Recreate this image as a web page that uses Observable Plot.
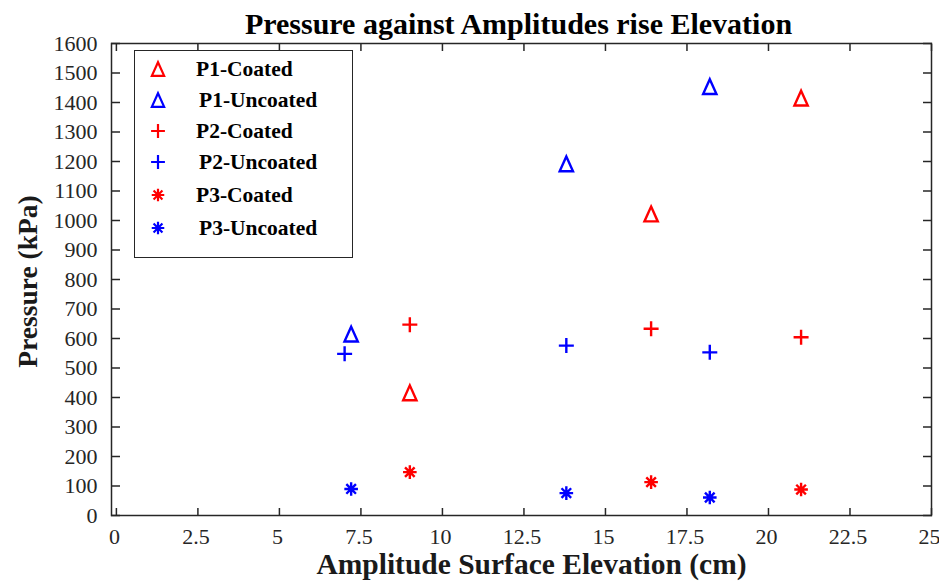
<!DOCTYPE html>
<html>
<head>
<meta charset="utf-8">
<script src="https://cdn.jsdelivr.net/npm/d3@7"></script>
<script src="https://cdn.jsdelivr.net/npm/@observablehq/plot@0.6"></script>
<style>
  html, body { margin: 0; padding: 0; background: #fff; }
  #wrap { position: relative; width: 939px; height: 581px; font-family: 'Liberation Serif', 'DejaVu Serif', 'Times New Roman', Times, serif; }
  #wrap svg text { font-family: 'Liberation Serif', 'DejaVu Serif', 'Times New Roman', Times, serif; }
  #legend { position: absolute; left: 134px; top: 50px; width: 219px; height: 208px; border: 1.5px solid #262626; background: #fff; box-sizing: border-box; }
  .row { position: absolute; left: 0; height: 24px; }
  .row svg { position: absolute; left: 11px; top: 0; }
  .row span { position: absolute; top: 0px; white-space: nowrap; font-weight: bold; font-size: 21.5px; line-height: 24px; color: #000; }
</style>
</head>
<body>
<div id="wrap"><div id="legend"></div></div>
<script>
// ---- data ----
const seriesNames = ["P1-Coated", "P1-Uncoated", "P2-Coated", "P2-Uncoated", "P3-Coated", "P3-Uncoated"];
const seriesColors = ["#ff0000", "#0000ff", "#ff0000", "#0000ff", "#ff0000", "#0000ff"];
const seriesShapes = ["triangle", "triangle", "plus", "plus", "asterisk", "asterisk"];
const xCoated = [9.0, 16.4, 21.0];
const xP1Uncoated = [7.2, 13.8, 18.2];
const xP2Uncoated = [7.0, 13.8, 18.2];
const xP3Uncoated = [7.2, 13.8, 18.2];
const p1Coated = [416, 1022, 1415];
const p1Uncoated = [615, 1192, 1454];
const p2Coated = [647, 633, 604];
const p2Uncoated = [548, 576, 553];
const p3Coated = [147, 113, 88];
const p3Uncoated = [90, 76, 61];
const xTicks = [0, 2.5, 5, 7.5, 10, 12.5, 15, 17.5, 20, 22.5, 25];
const yTicks = [0, 100, 200, 300, 400, 500, 600, 700, 800, 900, 1000, 1100, 1200, 1300, 1400, 1500, 1600];
const titleText = "Pressure against Amplitudes rise Elevation";
const xLabel = "Amplitude Surface Elevation (cm)";
const yLabel = "Pressure (kPa)";

const seriesX = [xCoated, xP1Uncoated, xCoated, xP2Uncoated, xCoated, xP3Uncoated];
const seriesY = [p1Coated, p1Uncoated, p2Coated, p2Uncoated, p3Coated, p3Uncoated];

const rows = [];
seriesNames.forEach((name, i) => {
  seriesY[i].forEach((v, j) => rows.push({series: name, shape: seriesShapes[i], color: seriesColors[i], x: seriesX[i][j], y: v}));
});

// ---- custom MATLAB-like symbols ----
const rad = s => Math.sqrt(s / Math.PI);
const symTriangle = {draw(c, s) { const r = rad(s); c.moveTo(0, -r); c.lineTo(0.9 * r, r); c.lineTo(-0.9 * r, r); c.closePath(); }};
const symPlus = {draw(c, s) { const r = rad(s); c.moveTo(-r, 0); c.lineTo(r, 0); c.moveTo(0, -r); c.lineTo(0, r); }};
const symAsterisk = {draw(c, s) { const r = rad(s); const d = r * 0.7071;
  c.moveTo(-r, 0); c.lineTo(r, 0); c.moveTo(0, -r); c.lineTo(0, r);
  c.moveTo(-d, -d); c.lineTo(d, d); c.moveTo(-d, d); c.lineTo(d, -d); }};
const symbols = {triangle: symTriangle, plus: symPlus, asterisk: symAsterisk};
const symR = {triangle: 7.4, plus: 7.5, asterisk: 6.8};

const font = "'Liberation Serif', 'DejaVu Serif', 'Times New Roman', Times, serif";
const axisColor = "#262626";

const marks = [
  Plot.frame({stroke: axisColor, strokeWidth: 1.5}),
  Plot.axisX({ticks: xTicks, anchor: "bottom", tickSize: -7, text: null, label: null, stroke: axisColor, strokeWidth: 1.5}),
  Plot.axisX({ticks: xTicks, anchor: "bottom", tickSize: 0, tickPadding: 13, dx: -2, tickFormat: d => String(d), fontSize: 22, label: null, fill: axisColor}),
  Plot.axisX({ticks: xTicks, anchor: "top", tickSize: -7, text: null, label: null, stroke: axisColor, strokeWidth: 1.5}),
  Plot.axisY({ticks: yTicks, anchor: "left", tickSize: -9, tickPadding: 23, tickFormat: d => String(d), fontSize: 22, label: null, stroke: axisColor, strokeWidth: 1.5, fill: axisColor}),
  Plot.axisY({ticks: yTicks, anchor: "right", tickSize: -9, text: null, label: null, stroke: axisColor, strokeWidth: 1.5}),
];
for (const shape of ["triangle", "plus", "asterisk"]) {
  marks.push(Plot.dot(rows.filter(d => d.shape === shape), {
    x: "x", y: "y", stroke: d => d.color, symbol: () => symbols[shape], r: symR[shape], strokeWidth: 2.4, fill: "none"
  }));
}
marks.push(
  Plot.text([titleText], {text: d => d, frameAnchor: "top", lineAnchor: "bottom", dy: -10, dx: -3, fontSize: 30, fontWeight: "bold", fill: "#000"}),
  Plot.text([xLabel], {text: d => d, frameAnchor: "bottom", lineAnchor: "bottom", dy: 58, dx: 10, fontSize: 29.5, fontWeight: "bold", fill: "#1a1a1a"}),
  Plot.text([yLabel], {text: d => d, frameAnchor: "left", textAnchor: "middle", rotate: -90, dx: -83, dy: 2, fontSize: 27.5, fontWeight: "bold", fill: "#1a1a1a"})
);

const chart = Plot.plot({
  width: 939, height: 581,
  marginLeft: 111, marginRight: 8, marginTop: 43, marginBottom: 66,
  style: {fontFamily: font, background: "#fff", overflow: "visible"},
  x: {domain: [-0.15, 25]},
  y: {domain: [0, 1600]},
  color: {type: "identity"},
  symbol: {type: "identity"},
  marks
});
document.getElementById("wrap").prepend(chart);

// ---- legend ----
const legend = document.getElementById("legend");
const rowTops = [6, 37, 68, 99, 132, 165];
const textLefts = [61, 64, 61, 64, 61, 64];
seriesNames.forEach((name, i) => {
  const row = document.createElement("div");
  row.className = "row";
  row.style.top = rowTops[i] + "px";
  row.style.width = "216px";
  const svg = d3.create("svg").attr("width", 24).attr("height", 24);
  const p = d3.path();
  symbols[seriesShapes[i]].draw(p, symR[seriesShapes[i]] ** 2 * Math.PI * 0.85);
  svg.append("path").attr("d", p.toString()).attr("transform", "translate(12,12)")
    .attr("fill", "none").attr("stroke", seriesColors[i]).attr("stroke-width", 2.2);
  row.appendChild(svg.node());
  const span = document.createElement("span");
  span.textContent = name;
  span.style.left = textLefts[i] + "px";
  row.appendChild(span);
  legend.appendChild(row);
});
</script>
</body>
</html>
